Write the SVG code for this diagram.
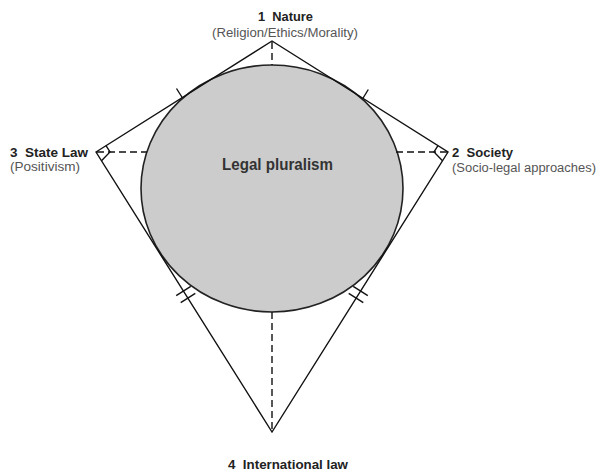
<svg xmlns="http://www.w3.org/2000/svg" width="598" height="474" viewBox="0 0 598 474">
<style>
.edge{stroke:#111;stroke-width:1.4;fill:none}
.dash{stroke:#111;stroke-width:1.4;fill:none;stroke-dasharray:7 4}
.tick{stroke:#111;stroke-width:1.4;fill:none}
.lbl{font-family:"Liberation Sans",Arial,sans-serif;font-weight:bold;font-size:12.5px;fill:#222}
.sub{font-family:"Liberation Sans",Arial,sans-serif;font-size:12.5px;fill:#555}
.ctr{font-family:"Liberation Sans",Arial,sans-serif;font-weight:bold;font-size:16px;fill:#333}
</style>
<rect width="598" height="474" fill="#fff"/>
<g id="legal-pluralism">
<ellipse cx="272" cy="188.5" rx="131" ry="123.5" fill="#cccccc" stroke="#222" stroke-width="1.6"/>
<text class="ctr" x="222" y="170" textLength="111" lengthAdjust="spacingAndGlyphs">Legal pluralism</text>
</g>
<g id="connectors">
<path class="edge" d="M96,152 L272,41 L448,152 L272,432 Z"/>
<line class="dash" x1="272" y1="42" x2="272" y2="65"/>
<line class="dash" x1="97" y1="152" x2="147" y2="152"/>
<line class="dash" x1="447" y1="152" x2="396" y2="152"/>
<line class="dash" x1="272" y1="312" x2="272" y2="431"/>
<path class="tick" d="M106,145.6 L110,152 L101.5,160.7"/>
<path class="tick" d="M438,145.6 L434,152 L442.5,160.7"/>
<line class="tick" x1="176.5" y1="88.5" x2="182.5" y2="98"/>
<line class="tick" x1="368.3" y1="89.5" x2="362.8" y2="98.5"/>
<line class="tick" x1="176.2" y1="295.6" x2="190.8" y2="286.4"/>
<line class="tick" x1="180.7" y1="302.6" x2="195.3" y2="293.4"/>
<line class="tick" x1="367.8" y1="295.6" x2="353.2" y2="286.4"/>
<line class="tick" x1="363.3" y1="302.6" x2="348.7" y2="293.4"/>
</g>
<g id="nature">
<text class="lbl" x="258" y="21" textLength="55" lengthAdjust="spacingAndGlyphs"><tspan>1</tspan><tspan dx="7">Nature</tspan></text>
<text class="sub" x="212" y="37" textLength="146" lengthAdjust="spacingAndGlyphs">(Religion/Ethics/Morality)</text>
</g>
<g id="state-law">
<text class="lbl" x="10" y="157" textLength="78" lengthAdjust="spacingAndGlyphs"><tspan>3</tspan><tspan dx="7">State Law</tspan></text>
<text class="sub" x="10" y="171" textLength="70" lengthAdjust="spacingAndGlyphs">(Positivism)</text>
</g>
<g id="society">
<text class="lbl" x="452" y="157" textLength="61" lengthAdjust="spacingAndGlyphs"><tspan>2</tspan><tspan dx="7">Society</tspan></text>
<text class="sub" x="452" y="172" textLength="144" lengthAdjust="spacingAndGlyphs">(Socio-legal approaches)</text>
</g>
<g id="international-law">
<text class="lbl" x="228" y="469" textLength="120" lengthAdjust="spacingAndGlyphs"><tspan>4</tspan><tspan dx="7">International law</tspan></text>
</g>
</svg>
